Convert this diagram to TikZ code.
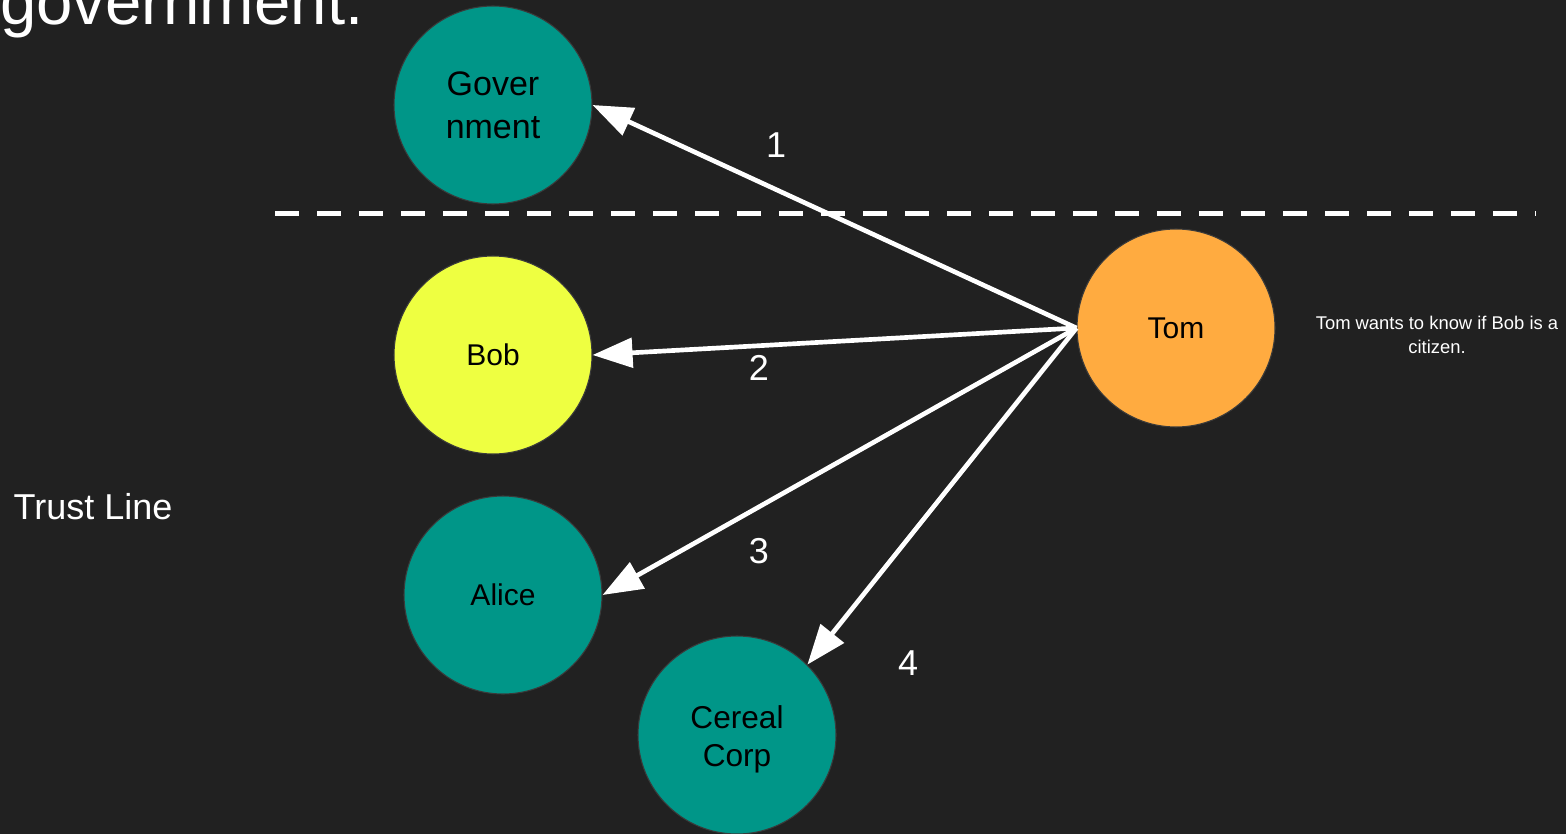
\documentclass[tikz,border=0pt]{standalone}
\usepackage{fontspec}
\setmainfont{Liberation Sans}
\usetikzlibrary{arrows.meta}
\definecolor{bg}{HTML}{212121}
\definecolor{tealc}{HTML}{009688}
\definecolor{yellowc}{HTML}{EEFF41}
\definecolor{orangec}{HTML}{FFAB40}
\definecolor{rimc}{HTML}{3A3A3A}
\begin{document}
\begin{tikzpicture}[x=0.75pt,y=-0.75pt,
  actor/.style={circle,draw=rimc,line width=0.8pt,minimum size=148.5pt,inner sep=0pt,align=center,text=black},
  link/.style={draw=white,line width=3.5pt,-{Triangle[length=30pt,width=22pt]}},
  steplabel/.style={text=white,font=\fontsize{27}{32}\selectfont},
  note/.style={text=white,align=center}]
  % canvas
  \fill[bg] (0,0) rectangle (1566,834);
  \useasboundingbox (0,0) rectangle (1566,834);
  % heading running off the top edge
  \begin{scope}
    \clip (0,0) rectangle (1566,834);
    \node[note,anchor=base west,inner sep=0pt,font=\fontsize{49}{58}\selectfont] (head) at (0,25) {government.};
  \end{scope}
  % trust line
  \draw[white,line width=3.75pt,dash pattern=on 18pt off 13.5pt] (275,214) -- (1536,214);
  \node[note,font=\fontsize{27}{32}\selectfont] (trust) at (93,507) {Trust Line};
  % actors
  \node[actor,fill=tealc,font=\fontsize{25.5}{32}\selectfont] (gov) at (493,105) {Gover\\nment};
  \node[actor,fill=yellowc,font=\fontsize{22.5}{27}\selectfont] (bob) at (493,355) {Bob};
  \node[actor,fill=tealc,font=\fontsize{22.5}{27}\selectfont] (alice) at (503,595) {Alice};
  % extra room above the two lines pushes them a little below the centre
  \node[actor,fill=tealc,font=\fontsize{23.7}{28.5}\selectfont] (cereal) at (737,735)
    {\raisebox{0pt}[\dimexpr\height+7pt\relax]{\begin{tabular}{@{}c@{}}Cereal\\Corp\end{tabular}}};
  \node[actor,fill=orangec,font=\fontsize{22.5}{27}\selectfont] (tom) at (1176,328) {Tom};
  % question
  \node[note,font=\fontsize{13.8}{18}\selectfont] (question) at (1437,335) {Tom wants to know if Bob is a\\citizen.};
  % requests
  \draw[link] (tom.west) -- (gov.east);
  \draw[link] (tom.west) -- (bob.east);
  \draw[link] (tom.west) -- (alice.east);
  \draw[link] (tom.west) -- (cereal.45);
  \node[steplabel] (n1) at (776,145) {1};
  \node[steplabel] (n2) at (759,368) {2};
  \node[steplabel] (n3) at (759,551) {3};
  \node[steplabel] (n4) at (908,663) {4};
\end{tikzpicture}
\end{document}
